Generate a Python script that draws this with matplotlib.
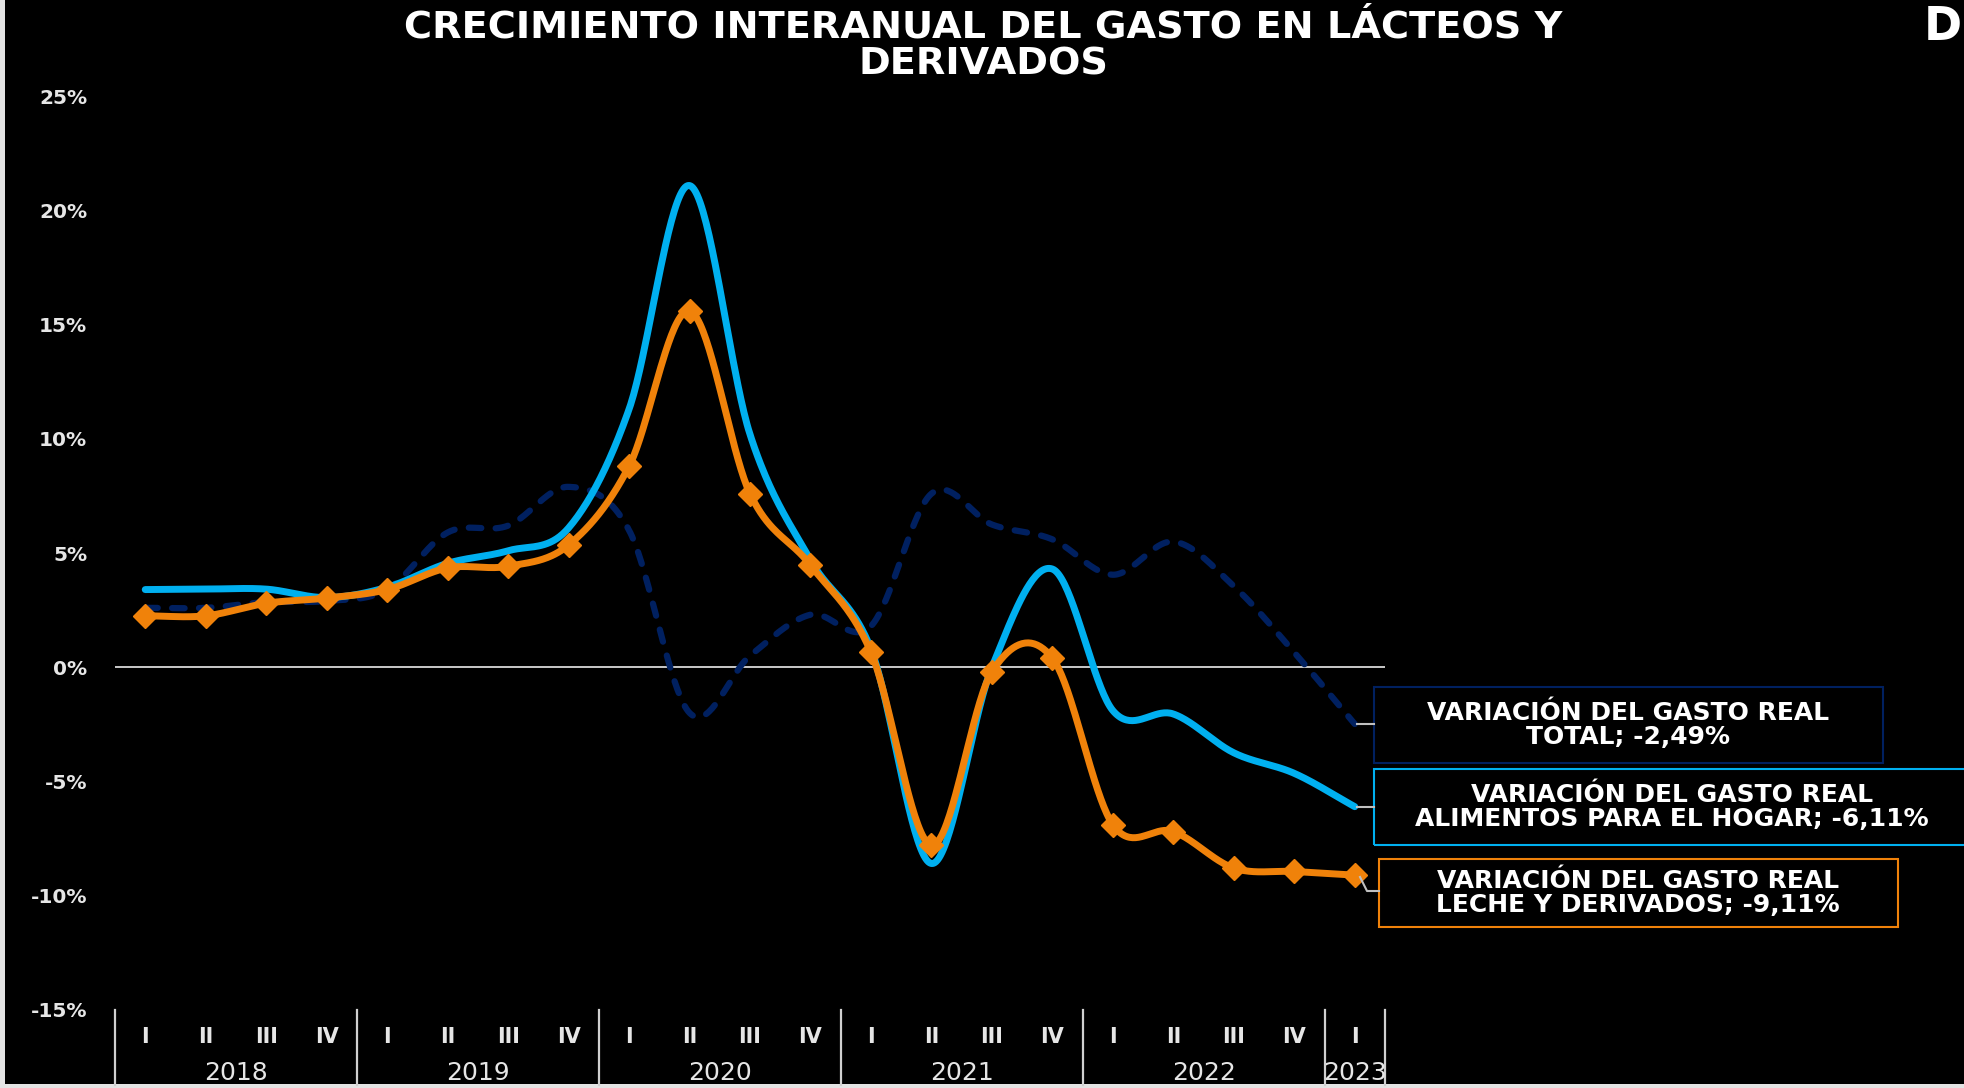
import numpy as np
import matplotlib.pyplot as plt
from matplotlib.patches import Rectangle
from matplotlib.lines import Line2D
from matplotlib.transforms import blended_transform_factory

# ---- data ----
quarters = ["I", "II", "III", "IV"] * 5 + ["I"]
years = ["2018", "2019", "2020", "2021", "2022", "2023"]
year_sizes = [4, 4, 4, 4, 4, 1]

gasto_total = [2.6, 2.6, 2.85, 2.9, 3.4, 5.9, 6.2, 7.9, 6.0, -2.0, 0.5,
               2.3, 1.8, 7.6, 6.25, 5.6, 4.05, 5.5, 3.55, 0.65, -2.49]
gasto_alimentos = [3.4, 3.42, 3.42, 3.05, 3.5, 4.55, 5.1, 6.1, 11.3, 21.1, 10.2,
                   4.7, 0.8, -8.6, 0.0, 4.3, -1.9, -2.05, -3.75, -4.65, -6.11]
gasto_leche = [2.25, 2.25, 2.8, 3.03, 3.4, 4.35, 4.42, 5.35, 8.8, 15.6, 7.6,
               4.47, 0.66, -7.8, -0.2, 0.4, -6.9, -7.2, -8.8, -8.95, -9.11]

label_total = "VARIACIÓN DEL GASTO REAL\nTOTAL; -2,49%"
label_alimentos = "VARIACIÓN DEL GASTO REAL\nALIMENTOS PARA EL HOGAR; -6,11%"
label_leche = "VARIACIÓN DEL GASTO REAL\nLECHE Y DERIVADOS; -9,11%"

C_NAVY = "#002060"
C_BLUE = "#00B0F0"
C_ORANGE = "#F0820A"
C_TXT = "#E6E6E6"

W, H = 1964, 1088


def smooth(y, n=40):
    """Catmull-Rom spline through the points (like Excel's smoothed line)"""
    y = np.asarray(y, float)
    x = np.arange(len(y), dtype=float)
    xp = np.concatenate([[2 * x[0] - x[1]], x, [2 * x[-1] - x[-2]]])
    yp = np.concatenate([[2 * y[0] - y[1]], y, [2 * y[-1] - y[-2]]])
    xs, ys = [], []
    t = np.linspace(0, 1, n, endpoint=False)
    for i in range(1, len(xp) - 2):
        for arr, out in ((xp, xs), (yp, ys)):
            p0, p1, p2, p3 = arr[i - 1], arr[i], arr[i + 1], arr[i + 2]
            out.append(0.5 * (2 * p1 + (-p0 + p2) * t
                              + (2 * p0 - 5 * p1 + 4 * p2 - p3) * t ** 2
                              + (-p0 + 3 * p1 - 3 * p2 + p3) * t ** 3))
    xs.append([x[-1]])
    ys.append([y[-1]])
    return np.concatenate(xs), np.concatenate(ys)


def fx(px):
    return px / W


def fy(py):
    return 1 - py / H


fig = plt.figure(figsize=(W / 100, H / 100), dpi=100)
fig.patch.set_facecolor("#E4E4E4")
fig.add_artist(Rectangle((fx(5), 0.0035), 1, 1, transform=fig.transFigure,
                         facecolor="black", edgecolor="none", zorder=0))

ax = fig.add_axes([fx(115), fy(1009.6), fx(1385) - fx(115), fy(96.5) - fy(1009.6)])
ax.set_facecolor("none")
for s in ax.spines.values():
    s.set_visible(False)

n = len(gasto_leche)
idx = np.arange(n)

ax.axhline(0, color="#D9D9D9", lw=1.3, zorder=1)

xs, ys = smooth(gasto_total)
ax.plot(xs, ys, color=C_NAVY, lw=4.5, dashes=(2.0, 2.3), dash_capstyle="round", zorder=2)
xs, ys = smooth(gasto_alimentos)
ax.plot(xs, ys, color=C_BLUE, lw=5, solid_capstyle="round", zorder=3)
xs, ys = smooth(gasto_leche)
ax.plot(xs, ys, color=C_ORANGE, lw=5, solid_capstyle="round", zorder=4)
ax.plot(idx, gasto_leche, ls="none", marker="D", ms=12.5, color=C_ORANGE, zorder=5)

ax.set_xlim(-0.5, n - 0.5)
ax.set_ylim(-15, 25)
ax.set_yticks(np.arange(-15, 26, 5))
ax.set_yticklabels([f"{v}%" for v in range(-15, 26, 5)])
ax.tick_params(axis="y", length=0, pad=20, labelsize=14.5, labelcolor=C_TXT)
for lab in ax.get_yticklabels():
    lab.set_fontweight("bold")
ax.set_xticks([])

# category axis: quarters, years and separators
tr = blended_transform_factory(ax.transData, ax.transAxes)
for i, q in enumerate(quarters):
    ax.text(i, -0.030, q, transform=tr, ha="center", va="center",
            color=C_TXT, fontsize=15, fontweight="bold", clip_on=False)
start = 0
bounds = [-0.5]
for yr, sz in zip(years, year_sizes):
    ax.text(start + (sz - 1) / 2, -0.0695, yr, transform=tr, ha="center",
            va="center", color=C_TXT, fontsize=18, clip_on=False)
    start += sz
    bounds.append(start - 0.5)
for b in bounds:
    ax.add_line(Line2D([b, b], [0, -0.083], transform=tr, color="#D0D0D0",
                       lw=1.6, clip_on=False))

fig.text(0.5005, fy(46), "CRECIMIENTO INTERANUAL DEL GASTO EN LÁCTEOS Y\nDERIVADOS",
         ha="center", va="center", color="white", fontsize=27.5, fontweight="bold",
         linespacing=1.05)
fig.text(fx(1962), fy(27), "D", ha="right", va="center", color="white",
         fontsize=33, fontweight="bold")

# data labels with boxes and leader lines
boxes = [
    (label_total, C_NAVY, (1374, 687, 1883, 763), 1628),
    (label_alimentos, C_BLUE, (1374, 769, 1975, 845), 1672),
    (label_leche, C_ORANGE, (1379, 859, 1898, 927), 1638),
]
for text, col, (x0, y0, x1, y1), xc in boxes:
    fig.add_artist(Rectangle((fx(x0), fy(y1)), fx(x1) - fx(x0), fy(y0) - fy(y1),
                             transform=fig.transFigure, facecolor="none",
                             edgecolor=col, lw=1.5, zorder=3))
    fig.text(fx(xc), fy((y0 + y1) / 2), text, ha="center", va="center",
             color="white", fontsize=18, fontweight="bold", linespacing=1.0)

leaders = [
    ([1357, 1374], [724, 724]),
    ([1357, 1374], [807, 807]),
    ([1360, 1367, 1379], [877, 891, 891]),
]
for lx, ly in leaders:
    fig.add_artist(Line2D([fx(v) for v in lx], [fy(v) for v in ly],
                          transform=fig.transFigure, color="#BFBFBF", lw=1.5, zorder=6))

fig.savefig("out.png", dpi=100, facecolor=fig.get_facecolor())
